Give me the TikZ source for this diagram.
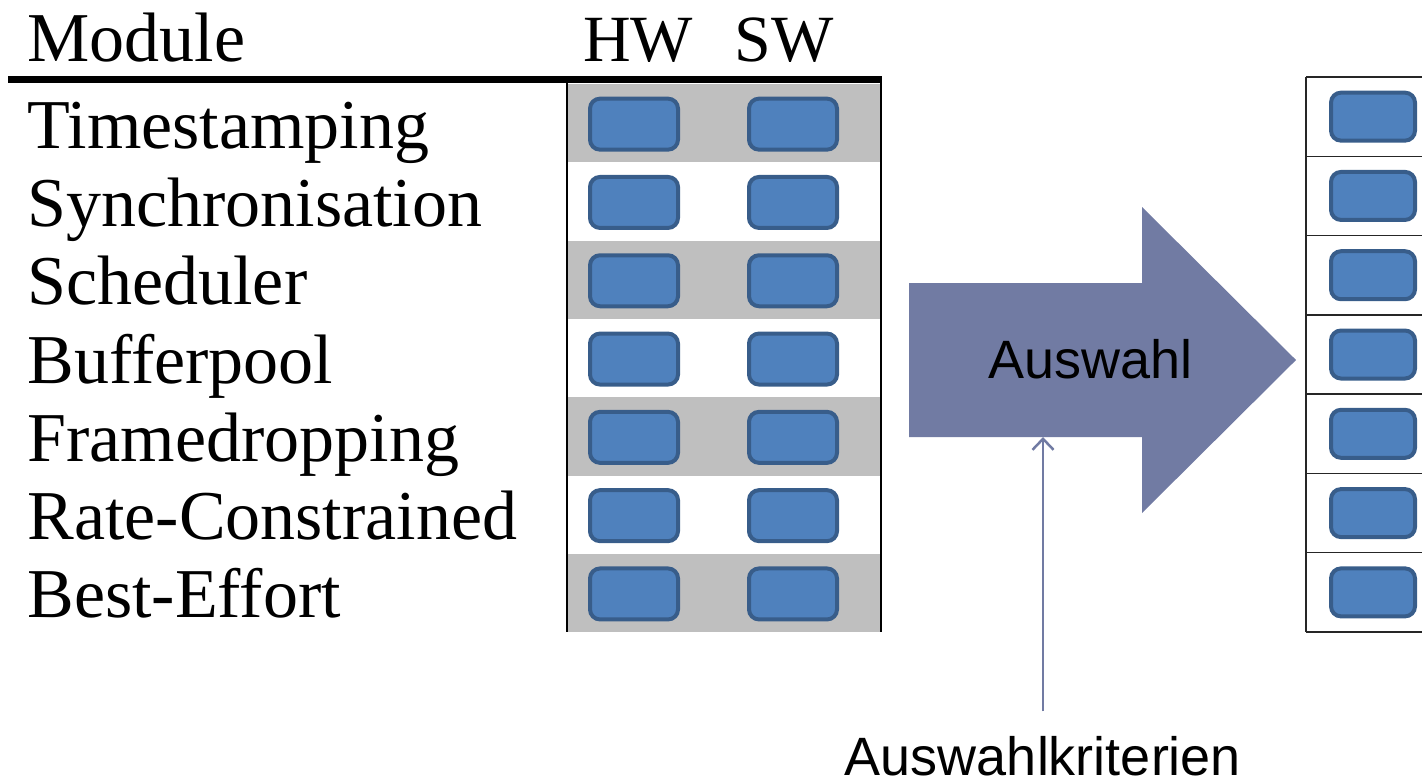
\documentclass[tikz,border=0pt]{standalone}
\usepackage{fontspec}
\setmainfont{Liberation Serif}
\newfontfamily\arialfont{Liberation Sans}
\usetikzlibrary{arrows.meta}
\definecolor{rowgray}{RGB}{191,191,191}
\definecolor{boxfill}{RGB}{79,129,189}
\definecolor{boxedge}{RGB}{56,93,138}
\definecolor{slate}{RGB}{113,123,163}

\begin{document}
\begin{tikzpicture}[x=0.5pt,y=-0.5pt,
  modlabel/.style={anchor=base west,inner sep=0pt,font=\fontsize{35}{40}\selectfont},
  colhead/.style={anchor=base,inner sep=0pt,font=\fontsize{33}{40}\selectfont},
  choice/.style={draw=boxedge,fill=boxfill,line width=2pt,rounded corners=5pt,
    minimum width=44pt,minimum height=25.5pt,inner sep=0pt},
  pick/.style={choice,minimum width=42pt,minimum height=24pt},
  sanslabel/.style={font=\arialfont\fontsize{27}{32}\selectfont,anchor=base,inner sep=0pt},
  tableside/.style={line width=1.25pt,black},
  tablerule/.style={line width=0.75pt,black!85},
  criteria/.style={draw=slate,line width=1.25pt,shorten <=12pt,
    -{Straight Barb[length=5.5pt,width=10.5pt]}}
]
\useasboundingbox (0,0) rectangle (1422,781);
\clip (0,0) rectangle (1422,781);

% column headers
\node[modlabel] (hmod) at (27,62) {Module};
\node[colhead] (hhw) at (638,62) {HW};
\node[colhead] (hsw) at (784,62) {SW};

% module rows with alternating shading and HW/SW options
\foreach \lbl [count=\k] in {Timestamping,Synchronisation,Scheduler,Bufferpool,Framedropping,Rate-Constrained,Best-Effort}{
  \pgfmathsetmacro\yc{84+(\k-0.5)*78.3}
  \ifodd\k
    \fill[rowgray] (567,{84+(\k-1)*78.3}) rectangle (881,{84+\k*78.3});
  \fi
  \node[modlabel] (mod\k) at (27,\yc+25) {\lbl};
  \node[choice] (hw\k) at (634,\yc+1) {};
  \node[choice] (sw\k) at (793,\yc+1) {};
}

% table frame
\draw[tableside] (567,83) -- (567,632);
\draw[tableside] (881,83) -- (881,632);
\draw[line width=3.5pt] (8,79.5) -- (882,79.5);

% selection arrow
\fill[slate] (909,283) -- (1142,283) -- (1142,207) -- (1296,360)
  -- (1142,513) -- (1142,437) -- (909,437) -- cycle;
\node[sanslabel] (auswahl) at (1090.5,378) {Auswahl};
\coordinate (arrowfoot) at (1043,437);

% selection criteria feeding the arrow
\node[sanslabel] (krit) at (1043,775) {Auswahlkriterien};
\draw[criteria] (krit.north) -- (arrowfoot);

% resulting module list
\draw[tablerule] (1306,77) -- (1306,632);
\foreach \j in {0,...,7}{
  \draw[tablerule] (1306,{77+\j*79.29}) -- (1440,{77+\j*79.29});
}
\foreach \k in {1,...,7}{
  \node[pick] (res\k) at (1373,{77+(\k-0.5)*79.29}) {};
}
\end{tikzpicture}
\end{document}
